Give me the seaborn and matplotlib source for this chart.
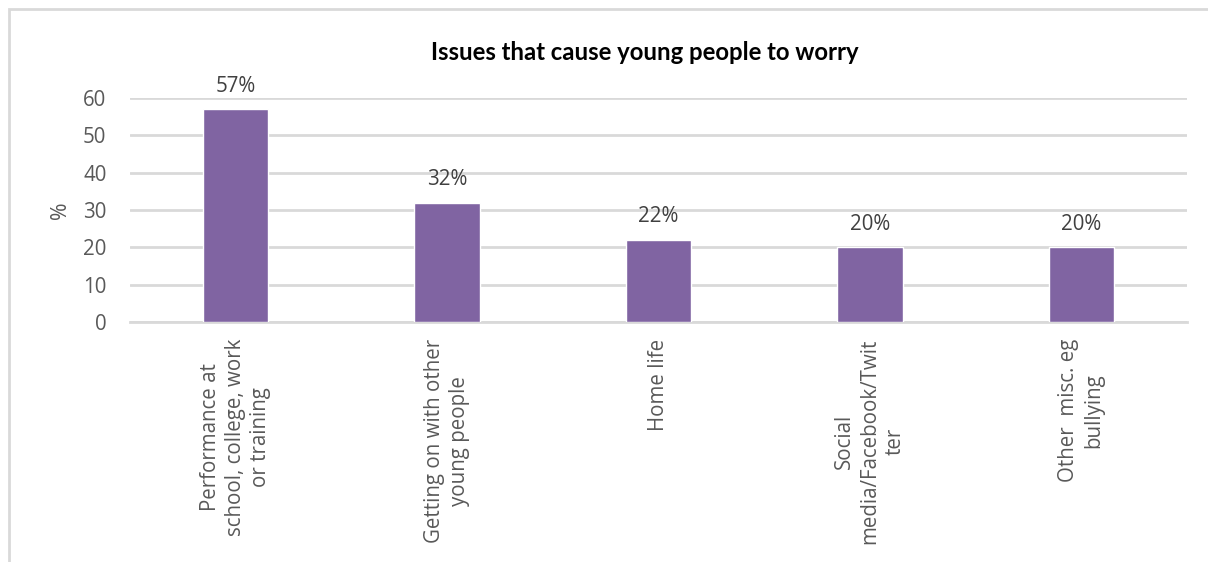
import matplotlib
matplotlib.use("Agg")
import matplotlib.pyplot as plt
import seaborn as sns
import pandas as pd
from matplotlib.patches import Rectangle

categories = [
    "Performance at\nschool, college, work\nor training",
    "Getting on with other\nyoung people",
    "Home life",
    "Social\nmedia/Facebook/Twit\nter",
    "Other  misc. eg\nbullying",
]
values = [57, 32, 22, 20, 20]
value_labels = ["57%", "32%", "22%", "20%", "20%"]
yticks = [0, 10, 20, 30, 40, 50, 60]
title = "Issues that cause young people to worry"
ylabel = "%"

sns.set_theme(style="white")
plt.rcParams["font.family"] = ["Open Sans", "DejaVu Sans"]

df = pd.DataFrame({"cat": categories, "val": values})

fig = plt.figure(figsize=(12.08, 5.62), dpi=100)
ax = fig.add_axes([130 / 1208, 1 - 322 / 562, 1057 / 1208, 224 / 562])

sns.barplot(data=df, x="cat", y="val", color="#8064A2", saturation=1,
            width=0.31, ax=ax, zorder=3)

FS = 14.8
ax.set_ylim(0, 60)
ax.set_xlim(-0.5, 4.5)
ax.set_yticks(yticks)
ax.set_yticklabels([str(t) for t in yticks], fontsize=FS, color="#595959")
ax.yaxis.grid(True, color="#D9D9D9", linewidth=2)
ax.set_axisbelow(True)
for s in ["top", "right", "left"]:
    ax.spines[s].set_visible(False)
ax.spines["bottom"].set_color("#D9D9D9")
ax.spines["bottom"].set_linewidth(2)
ax.tick_params(axis="both", length=0)
ax.tick_params(axis="y", pad=17)
ax.tick_params(axis="x", pad=12)
ax.set_xlabel("")
ax.set_ylabel(ylabel, fontsize=FS + 0.5, color="#595959")
ax.yaxis.set_label_coords(-59 / 1057, 0.5)

ax.set_xticks(range(len(categories)))
ax.set_xticklabels(categories, rotation=90, fontsize=FS, color="#595959",
                   ha="center", va="top", multialignment="center",
                   linespacing=1.25)

for i, (v, lab) in enumerate(zip(values, value_labels)):
    ax.annotate(lab, (i, v), xytext=(0, 9), textcoords="offset points",
                ha="center", va="bottom", fontsize=FS, color="#404040",
                clip_on=False)

fig.text(645 / 1208, 1 - 52 / 562, title, ha="center", va="center",
         fontsize=17.2, fontweight="bold", color="black",
         family=["Lato", "DejaVu Sans"])

fig.patches.append(Rectangle((9 / 1208, -0.1), 1.2, 1 - 9 / 562 + 0.1,
                             transform=fig.transFigure, fill=False,
                             edgecolor="#D9D9D9", linewidth=2))

fig.savefig("out.png", dpi=100)
